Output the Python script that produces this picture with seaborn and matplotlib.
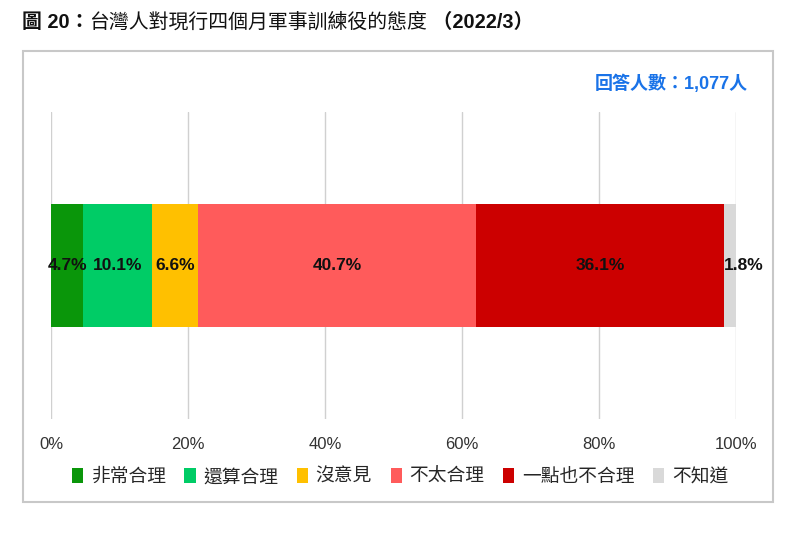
import matplotlib
matplotlib.use("Agg")
import matplotlib.pyplot as plt
import seaborn as sns
import pandas as pd
import numpy as np
from matplotlib.patches import Patch, Rectangle

categories = ["非常合理", "還算合理", "沒意見", "不太合理", "一點也不合理", "不知道"]
values = [4.7, 10.1, 6.6, 40.7, 36.1, 1.8]
colors = ["#0a960a", "#00cc66", "#ffc000", "#ff5b5b", "#cc0000", "#d9d9d9"]
tick_values = [0, 20, 40, 60, 80, 100]
tick_labels = ["0%", "20%", "40%", "60%", "80%", "100%"]
title_parts = [("圖 20：", "bold"), ("台灣人對現行四個月軍事訓練役的態度", "normal"), (" （2022/3）", "bold")]
note = "回答人數：1,077人"

sns.set_theme(style="white")
FAM = ["Liberation Sans", "Noto Sans CJK TC", "DejaVu Sans"]
plt.rcParams["font.family"] = FAM

W, H = 800, 533
fig = plt.figure(figsize=(W / 100, H / 100), dpi=100)
fig.patch.set_facecolor("white")
ax = fig.add_axes([51 / W, 1 - 419 / H, (736 - 51) / W, (419 - 112) / H])

cum = np.cumsum(values)
starts = cum - np.array(values)
# overplot cumulative bars, largest first
for i in range(len(values) - 1, -1, -1):
    df = pd.DataFrame({"row": ["a"], "val": [cum[i]]})
    sns.barplot(data=df, x="val", y="row", orient="h", color=colors[i],
                width=0.4, saturation=1, ax=ax, errorbar=None, linewidth=0)

ax.set_xlim(0, 100)
ax.set_ylim(0.5, -0.5)
ax.set_xticks(tick_values)
ax.set_xticklabels(tick_labels, fontsize=12, color="#333333")
ax.tick_params(axis="x", length=0, pad=13)
ax.set_yticks([])
ax.set_xlabel("")
ax.set_ylabel("")
for s in ax.spines.values():
    s.set_visible(False)
ax.grid(axis="x", color="#d0d0d0", linewidth=1)
ax.set_axisbelow(True)

for i, v in enumerate(values):
    if i == len(values) - 1:
        ax.text(starts[i], 0, f"{v}%", ha="left", va="center", fontsize=12.5,
                fontweight="bold", color="#111111")
    else:
        ax.text(starts[i] + v / 2, 0, f"{v}%", ha="center", va="center",
                fontsize=12.5, fontweight="bold", color="#111111")

handles = [Patch(facecolor=c, edgecolor="none", label=l) for c, l in zip(colors, categories)]
fig.legend(handles=handles, loc="center", bbox_to_anchor=(0.5, 1 - 477 / H), ncol=6,
           frameon=False, fontsize=13.5, handlelength=0.6, handleheight=0.9,
           handletextpad=0.4, columnspacing=1.0)

# border box
fig.patches.append(Rectangle((23 / W, 1 - 502 / H), (773 - 23) / W, (502 - 51) / H,
                             transform=fig.transFigure, fill=False,
                             edgecolor="#c8c8c8", linewidth=1.5))

fig.text(748 / W, 1 - 84 / H, note, ha="right", va="center", fontsize=13,
         color="#1a73e8", fontweight="bold")

fig.canvas.draw()
r = fig.canvas.get_renderer()
x = 22 / W
for txt, w in title_parts:
    t = fig.text(x, 1 - 22 / H, txt, ha="left", va="center", fontsize=14.3,
                 fontweight=w, color="#111111")
    bb = t.get_window_extent(renderer=r)
    x = bb.x1 / W

fig.savefig("out.png", dpi=100, facecolor="white")
